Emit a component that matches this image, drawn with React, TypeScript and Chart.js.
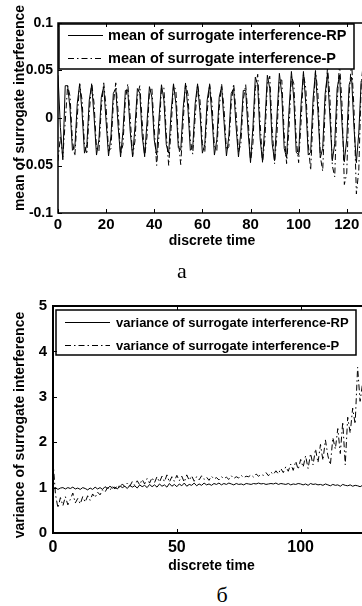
import React, { useEffect, useRef } from "react";
import { Chart, registerables } from "chart.js";

Chart.register(...registerables);

const SANS = "'Liberation Sans', Arial, Helvetica, sans-serif";
const SERIF = "'Liberation Serif', 'Times New Roman', serif";

// ---------- panel a: mean of surrogate interference ----------
const meanTicksX = [0, 20, 40, 60, 80, 100, 120];
const meanTicksY = [-0.1, -0.05, 0, 0.05, 0.1];
const meanTickLabelsY = ["-0.1", "-0.05", "0", "0.05", "0.1"];
const meanLegend = ["mean of surrogate interference-RP", "mean of surrogate interference-P"];

const meanRP = [
  0.045, -0.010, -0.044, 0.034, 0.034, 0.010, -0.034, -0.031, 0.015, 0.036,
  0.006, -0.037, -0.028, 0.019, 0.035, 0.001, -0.039, -0.023, 0.022, 0.033,
  -0.004, -0.040, -0.019, 0.026, 0.031, -0.009, -0.041, -0.014, 0.029, 0.029,
  -0.014, -0.041, -0.009, 0.031, 0.026, -0.019, -0.040, -0.004, 0.033, 0.022,
  -0.023, -0.039, 0.001, 0.035, 0.019, -0.028, -0.037, 0.006, 0.036, 0.015,
  -0.031, -0.034, 0.010, 0.036, 0.010, -0.034, -0.031, 0.015, 0.036, 0.006,
  -0.037, -0.028, 0.019, 0.035, 0.001, -0.039, -0.023, 0.022, 0.033, -0.004,
  -0.040, -0.019, 0.026, 0.031, -0.009, -0.041, -0.014, 0.029, 0.029, -0.014,
  -0.047, -0.010, 0.043, 0.035, -0.022, -0.046, -0.005, 0.045, 0.031, -0.027,
  -0.045, 0.002, 0.047, 0.025, -0.032, -0.042, 0.008, 0.049, 0.020, -0.036,
  -0.039, 0.014, 0.049, 0.014, -0.039, -0.036, 0.020, 0.049, 0.008, -0.042,
  -0.032, 0.025, 0.047, 0.001, -0.045, -0.027, 0.031, 0.045, -0.005, -0.046,
  -0.022, 0.035, 0.043, -0.010, -0.047, -0.016, 0.039, 0.039,
];

const meanP = [
  -0.045, -0.019, -0.041, -0.004, 0.034, 0.023, -0.024, -0.040, 0.001, 0.036,
  0.019, -0.028, -0.038, 0.006, 0.037, 0.015, -0.032, -0.035, 0.011, 0.037,
  0.011, -0.035, -0.032, 0.015, 0.037, 0.006, -0.038, -0.028, 0.019, 0.036,
  0.001, -0.040, -0.024, 0.023, 0.034, -0.004, -0.041, -0.019, 0.027, 0.032,
  -0.011, -0.050, -0.017, 0.032, 0.032, -0.017, -0.050, -0.011, 0.035, 0.029,
  -0.023, -0.049, -0.005, 0.037, 0.025, -0.023, -0.038, 0.001, 0.035, 0.019,
  -0.027, -0.036, 0.006, 0.036, 0.015, -0.030, -0.034, 0.010, 0.036, 0.010,
  -0.034, -0.030, 0.015, 0.036, 0.006, -0.036, -0.027, 0.019, 0.035, 0.001,
  -0.046, -0.027, 0.031, 0.046, -0.005, -0.047, -0.022, 0.036, 0.044, -0.011,
  -0.048, -0.017, 0.040, 0.040, -0.017, -0.048, -0.011, 0.044, 0.036, -0.022,
  -0.047, -0.005, 0.046, 0.031, -0.027, -0.055, 0.002, 0.050, 0.027, -0.040,
  -0.056, 0.009, 0.054, 0.022, -0.050, -0.062, 0.016, 0.058, 0.016, -0.070,
  -0.058, 0.024, 0.060, 0.010, -0.080, -0.055, 0.035, 0.062,
];

// ---------- panel б: variance of surrogate interference ----------
const varTicksX = [0, 50, 100];
const varTicksY = [0, 1, 2, 3, 4, 5];
const varTickLabelsY = ["0", "1", "2", "3", "4", "5"];
const varLegend = ["variance of surrogate interference-RP", "variance of surrogate interference-P"];

const varRP = [
  0.97, 1.00, 0.96, 0.99, 1.00, 0.97, 1.00, 0.98, 1.01, 0.97,
  0.99, 0.96, 1.00, 0.98, 0.95, 0.99, 0.96, 1.01, 0.97, 1.00,
  0.96, 1.02, 0.98, 1.03, 0.99, 1.01, 0.97, 1.04, 1.00, 1.03,
  0.98, 1.05, 1.01, 1.04, 0.99, 1.06, 1.02, 1.05, 1.00, 1.07,
  1.02, 1.06, 1.01, 1.08, 1.03, 1.06, 1.01, 1.09, 1.03, 1.07,
  1.02, 1.08, 1.04, 1.10, 1.03, 1.07, 1.05, 1.10, 1.04, 1.08,
  1.05, 1.10, 1.06, 1.08, 1.05, 1.09, 1.07, 1.10, 1.06, 1.09,
  1.07, 1.10, 1.08, 1.06, 1.09, 1.07, 1.08, 1.06, 1.09, 1.08,
  1.07, 1.09, 1.08, 1.10, 1.08, 1.09, 1.07, 1.08, 1.09, 1.08,
  1.10, 1.07, 1.09, 1.08, 1.07, 1.09, 1.06, 1.08, 1.07, 1.09,
  1.08, 1.06, 1.08, 1.05, 1.09, 1.07, 1.08, 1.06, 1.07, 1.05,
  1.08, 1.06, 1.04, 1.07, 1.05, 1.06, 1.03, 1.07, 1.05, 1.04,
  1.06, 1.03, 1.05, 1.04, 1.02, 1.05, 1.03, 1.04,
];

const varP = [
  1.60, 0.85, 0.55, 0.78, 0.60, 0.80, 0.62, 0.74, 0.88, 0.66,
  0.76, 0.64, 0.80, 0.68, 0.82, 0.72, 0.86, 0.78, 0.90, 0.84,
  0.95, 0.90, 1.00, 0.94, 1.03, 0.97, 1.05, 1.00, 1.08, 1.02,
  1.10, 1.03, 1.13, 1.05, 1.15, 1.06, 1.18, 1.08, 1.20, 1.10,
  1.22, 1.11, 1.24, 1.12, 1.25, 1.13, 1.28, 1.12, 1.24, 1.14,
  1.27, 1.15, 1.25, 1.12, 1.28, 1.16, 1.26, 1.14, 1.24, 1.17,
  1.26, 1.18, 1.23, 1.16, 1.25, 1.19, 1.22, 1.17, 1.24, 1.20,
  1.23, 1.18, 1.26, 1.20, 1.24, 1.21, 1.27, 1.22, 1.25, 1.24,
  1.28, 1.23, 1.30, 1.25, 1.29, 1.27, 1.33, 1.26, 1.34, 1.29,
  1.37, 1.30, 1.42, 1.33, 1.46, 1.36, 1.52, 1.38, 1.58, 1.40,
  1.62, 1.45, 1.70, 1.42, 1.75, 1.50, 1.85, 1.55, 1.95, 1.60,
  2.05, 1.70, 1.50, 2.10, 1.85, 2.30, 1.75, 2.45, 1.50, 2.55,
  2.20, 2.75, 2.40, 3.65, 2.90, 3.30, 2.60, 3.70,
];

const DASH_P = [6, 3, 1.5, 3];

type Spec = {
  rp: number[];
  p: number[];
  xMax: number;
  yMin: number;
  yMax: number;
  ticksX: number[];
  ticksY: number[];
  labelsY: string[];
  legend: string[];
  width: number;
  height: number;
  padTop: number;
  padRight: number;
  yWidth: number;
  xHeight: number;
  tickFontX: number;
  tickFontY: number;
  yPad: number;
  xPad: number;
  frameWidth: number;
  lg: { dx: number; dy: number; w: number; h: number; rows: number[]; l0: number; l1: number; tx: number; font: number };
};

function makeOverlay(s: Spec) {
  return {
    id: "overlay",
    afterDraw(chart: any) {
      const { ctx, chartArea: a, scales } = chart;
      ctx.save();
      // legend box
      const bx = a.left + s.lg.dx;
      const by = a.top + s.lg.dy;
      ctx.fillStyle = "#fff";
      ctx.fillRect(bx, by, s.lg.w, s.lg.h);
      ctx.strokeStyle = "#000";
      ctx.lineWidth = 1.5;
      ctx.setLineDash([]);
      ctx.strokeRect(bx, by, s.lg.w, s.lg.h);
      s.legend.forEach((text, i) => {
        const y = by + s.lg.rows[i];
        ctx.lineWidth = 1;
        ctx.setLineDash(i === 0 ? [] : DASH_P);
        ctx.beginPath();
        ctx.moveTo(bx + s.lg.l0, y + 0.5);
        ctx.lineTo(bx + s.lg.l1, y + 0.5);
        ctx.stroke();
        ctx.setLineDash([]);
        ctx.fillStyle = "#000";
        ctx.font = `bold ${s.lg.font}px ${SANS}`;
        ctx.textAlign = "left";
        ctx.textBaseline = "middle";
        ctx.fillText(text, bx + s.lg.tx, y + 1);
      });
      // frame
      ctx.lineWidth = s.frameWidth;
      ctx.strokeRect(a.left, a.top, a.right - a.left, a.bottom - a.top);
      // inward tick marks
      ctx.lineWidth = 1;
      const tl = 4;
      ctx.beginPath();
      s.ticksX.forEach((v) => {
        const x = Math.round(scales.x.getPixelForValue(v)) + 0.5;
        ctx.moveTo(x, a.bottom);
        ctx.lineTo(x, a.bottom - tl);
        ctx.moveTo(x, a.top);
        ctx.lineTo(x, a.top + tl);
      });
      s.ticksY.forEach((v) => {
        const y = Math.round(scales.y.getPixelForValue(v)) + 0.5;
        ctx.moveTo(a.left, y);
        ctx.lineTo(a.left + tl, y);
        ctx.moveTo(a.right, y);
        ctx.lineTo(a.right - tl, y);
      });
      ctx.stroke();
      ctx.restore();
    },
  };
}

function Panel({ spec, top }: { spec: Spec; top: number }) {
  const ref = useRef<HTMLCanvasElement | null>(null);
  useEffect(() => {
    if (!ref.current) return;
    const s = spec;
    const chart = new Chart(ref.current, {
      type: "line",
      data: {
        datasets: [
          {
            label: s.legend[1],
            data: s.p.map((v, i) => ({ x: i, y: v })),
            borderColor: "#000",
            borderWidth: 1,
            borderDash: DASH_P,
            pointRadius: 0,
            tension: 0,
            fill: false,
          },
          {
            label: s.legend[0],
            data: s.rp.map((v, i) => ({ x: i, y: v })),
            borderColor: "#000",
            borderWidth: 1,
            pointRadius: 0,
            tension: 0,
            fill: false,
          },
        ],
      },
      options: {
        animation: false,
        responsive: false,
        devicePixelRatio: 1,
        layout: { padding: { top: s.padTop, right: s.padRight, left: 0, bottom: 0 } },
        plugins: { legend: { display: false }, tooltip: { enabled: false } },
        scales: {
          x: {
            type: "linear",
            min: 0,
            max: s.xMax,
            grid: { display: false, drawTicks: false },
            border: { display: false },
            afterBuildTicks: (sc: any) => {
              sc.ticks = s.ticksX.map((value) => ({ value }));
            },
            afterFit: (sc: any) => {
              sc.height = s.xHeight;
            },
            ticks: {
              autoSkip: false,
              maxRotation: 0,
              padding: s.xPad,
              color: "#000",
              font: { family: SANS, weight: "bold", size: s.tickFontX },
              callback: (v: any) => String(v),
            },
            title: {
              display: true,
              text: "discrete time",
              color: "#000",
              padding: 0,
              font: { family: SANS, weight: "bold", size: 14 },
            },
          },
          y: {
            type: "linear",
            min: s.yMin,
            max: s.yMax,
            grid: { display: false, drawTicks: false },
            border: { display: false },
            afterBuildTicks: (sc: any) => {
              sc.ticks = s.ticksY.map((value) => ({ value }));
            },
            afterFit: (sc: any) => {
              sc.width = s.yWidth;
            },
            ticks: {
              autoSkip: false,
              padding: s.yPad,
              color: "#000",
              font: { family: SANS, weight: "bold", size: s.tickFontY },
              callback: (_v: any, i: number) => s.labelsY[i],
            },
          },
        },
      },
      plugins: [makeOverlay(s)],
    } as any);
    return () => chart.destroy();
  }, [spec]);
  return (
    <canvas
      ref={ref}
      width={spec.width}
      height={spec.height}
      style={{ position: "absolute", left: 0, top, width: spec.width, height: spec.height, display: "block" }}
    />
  );
}

const meanSpec: Spec = {
  rp: meanRP,
  p: meanP,
  xMax: 128,
  yMin: -0.1,
  yMax: 0.1,
  ticksX: meanTicksX,
  ticksY: meanTicksY,
  labelsY: meanTickLabelsY,
  legend: meanLegend,
  width: 372,
  height: 250,
  padTop: 23,
  padRight: 6,
  yWidth: 58,
  xHeight: 37,
  tickFontX: 15,
  tickFontY: 14,
  yPad: 5,
  xPad: 3,
  frameWidth: 1.5,
  lg: { dx: 1, dy: 1, w: 295, h: 45, rows: [11, 34], l0: 9, l1: 44, tx: 49, font: 14.5 },
};

const varSpec: Spec = {
  rp: varRP,
  p: varP,
  xMax: 128,
  yMin: 0,
  yMax: 5,
  ticksX: varTicksX,
  ticksY: varTicksY,
  labelsY: varTickLabelsY,
  legend: varLegend,
  width: 376,
  height: 315,
  padTop: 46,
  padRight: 6,
  yWidth: 53,
  xHeight: 42,
  tickFontX: 16,
  tickFontY: 15,
  yPad: 6,
  xPad: 5,
  frameWidth: 2,
  lg: { dx: 3, dy: 4, w: 300, h: 45, rows: [12, 35], l0: 9, l1: 54, tx: 60, font: 13 },
};

const yTitleStyle = (cx: number, cy: number): React.CSSProperties => ({
  position: "absolute",
  left: cx,
  top: cy,
  transform: "translate(-50%, -50%) rotate(-90deg)",
  whiteSpace: "nowrap",
  fontFamily: SANS,
  fontWeight: "bold",
  fontSize: 14,
  color: "#000",
  lineHeight: 1,
});

const capStyle = (cx: number, cy: number): React.CSSProperties => ({
  position: "absolute",
  left: cx,
  top: cy,
  transform: "translate(-50%, -50%)",
  whiteSpace: "nowrap",
  fontFamily: SERIF,
  fontSize: 22,
  color: "#000",
  lineHeight: 1,
});

export default function App() {
  return (
    <div
      style={{
        position: "fixed",
        left: 0,
        top: 0,
        width: 362,
        height: 606,
        overflow: "hidden",
        background: "#fff",
      }}
    >
      <Panel spec={meanSpec} top={0} />
      <Panel spec={varSpec} top={260} />
      <div style={yTitleStyle(19, 108)}>mean of surrogate interference</div>
      <div style={yTitleStyle(19, 425)}>variance of surrogate interference</div>
      <div style={capStyle(182, 271)}>a</div>
      <div style={capStyle(222, 595)}>б</div>
    </div>
  );
}
